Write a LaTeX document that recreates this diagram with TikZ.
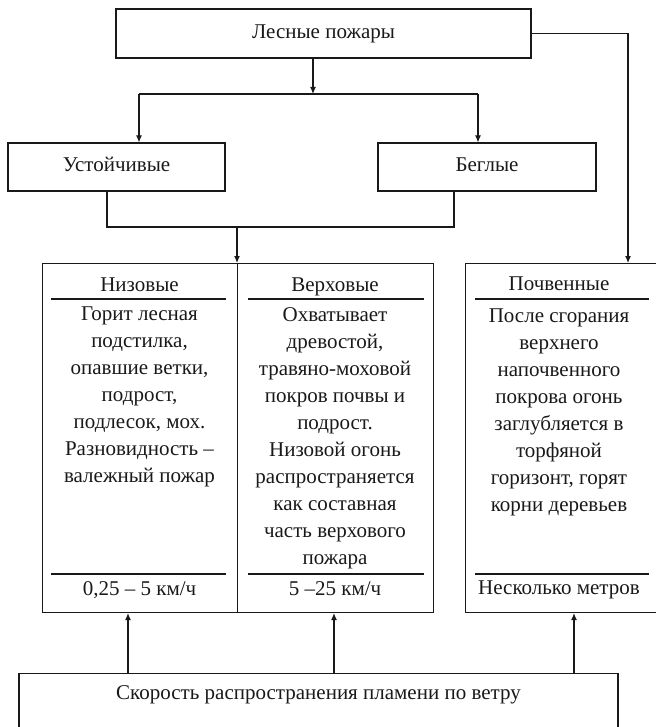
\documentclass[tikz,border=0pt]{standalone}
\usepackage{fontspec}
\setmainfont{Liberation Serif}
\usetikzlibrary{arrows.meta,positioning}
\tikzset{
  box/.style={draw, line width=1.1pt, inner sep=0pt, text height=14pt, text depth=4pt},
  tag/.style={text height=14pt, text depth=4pt},
  rule/.style={line width=1.1pt},
  link/.style={line width=1.1pt, -{Latex[length=7pt,width=6pt]}},
  cell/.style={align=center, inner sep=0pt, anchor=north},
}
\begin{document}
\begin{tikzpicture}[x=1pt,y=-1pt,color=black!90,font=\fontsize{21}{27}\selectfont]
\useasboundingbox (0,0) rectangle (655,727);
% top level and the two kinds
\node[box, minimum width=415pt, minimum height=49pt] (fires) at (323.5,33.5) {Лесные пожары};
\node[box, minimum width=217pt, minimum height=48pt] (stable) at (116.5,167) {Устойчивые};
\node[box, minimum width=218pt, minimum height=48pt] (runaway) at (487,167) {Беглые};
\coordinate (split) at (313,94);
\coordinate (splitL) at (139,94);
\coordinate (splitR) at (478,94);
\draw[link] (fires.south -| split) -- (split);
\draw[rule] (splitL) -- (splitR);
\draw[link] (splitL) -- (splitL |- stable.north);
\draw[link] (splitR) -- (splitR |- runaway.north);
\coordinate (merge) at (237,227);
\draw[rule] (stable.south -| 107,0) -- (107,227) -- (454,227) -- (runaway.south -| 454,0);
% the three columns
\node[box, minimum width=195pt, minimum height=349pt, anchor=north west] (low) at (42,263) {};
\node[box, minimum width=196pt, minimum height=349pt, anchor=north west] (crown) at (237,263) {};
\node[box, minimum width=200pt, minimum height=349pt, anchor=north west] (soil) at (465,263) {};
\draw[link] (merge) -- (merge |- low.north);
\draw[link] (fires.east) -| (soil.north -| 628,0);
\foreach \a/\b in {51/226, 248/424, 475/649} {
  \draw[rule] (\a,299) -- (\b,299);
  \draw[rule] (\a,574) -- (\b,574);
}
\node[tag] (lowhead) at (139.5,286) {Низовые};
\node[tag] (crownhead) at (335,286) {Верховые};
\node[tag] (soilhead) at (559,285) {Почвенные};
\node[cell] (lowbody) at (139.5,307) {Горит лесная\\подстилка,\\опавшие ветки,\\подрост,\\подлесок, мох.\\Разновидность –\\валежный пожар};
\node[cell] (crownbody) at (335,307) {Охватывает\\древостой,\\травяно-моховой\\покров почвы и\\подрост.\\Низовой огонь\\распространяется\\как составная\\часть верхового\\пожара};
\node[cell] (soilbody) at (559,309) {После сгорания\\верхнего\\напочвенного\\покрова огонь\\заглубляется в\\торфяной\\горизонт, горят\\корни деревьев};
\node[tag] (lowfoot) at (139.5,590) {0,25 – 5 км/ч};
\node[tag] (crownfoot) at (335,590) {5 –25 км/ч};
\node[tag] (soilfoot) at (559,589) {Несколько метров};
% wind speed
\node[box, minimum width=599pt, minimum height=90pt, anchor=north] (speed) at (318.5,673) {};
\node[tag] (speedlbl) at (318.5,694) {Скорость распространения пламени по ветру};
\foreach \x/\t in {128/low, 334/crown, 574/soil}
  \draw[link] (speed.north -| \x,0) -- (\t.south -| \x,0);
\end{tikzpicture}
\end{document}
